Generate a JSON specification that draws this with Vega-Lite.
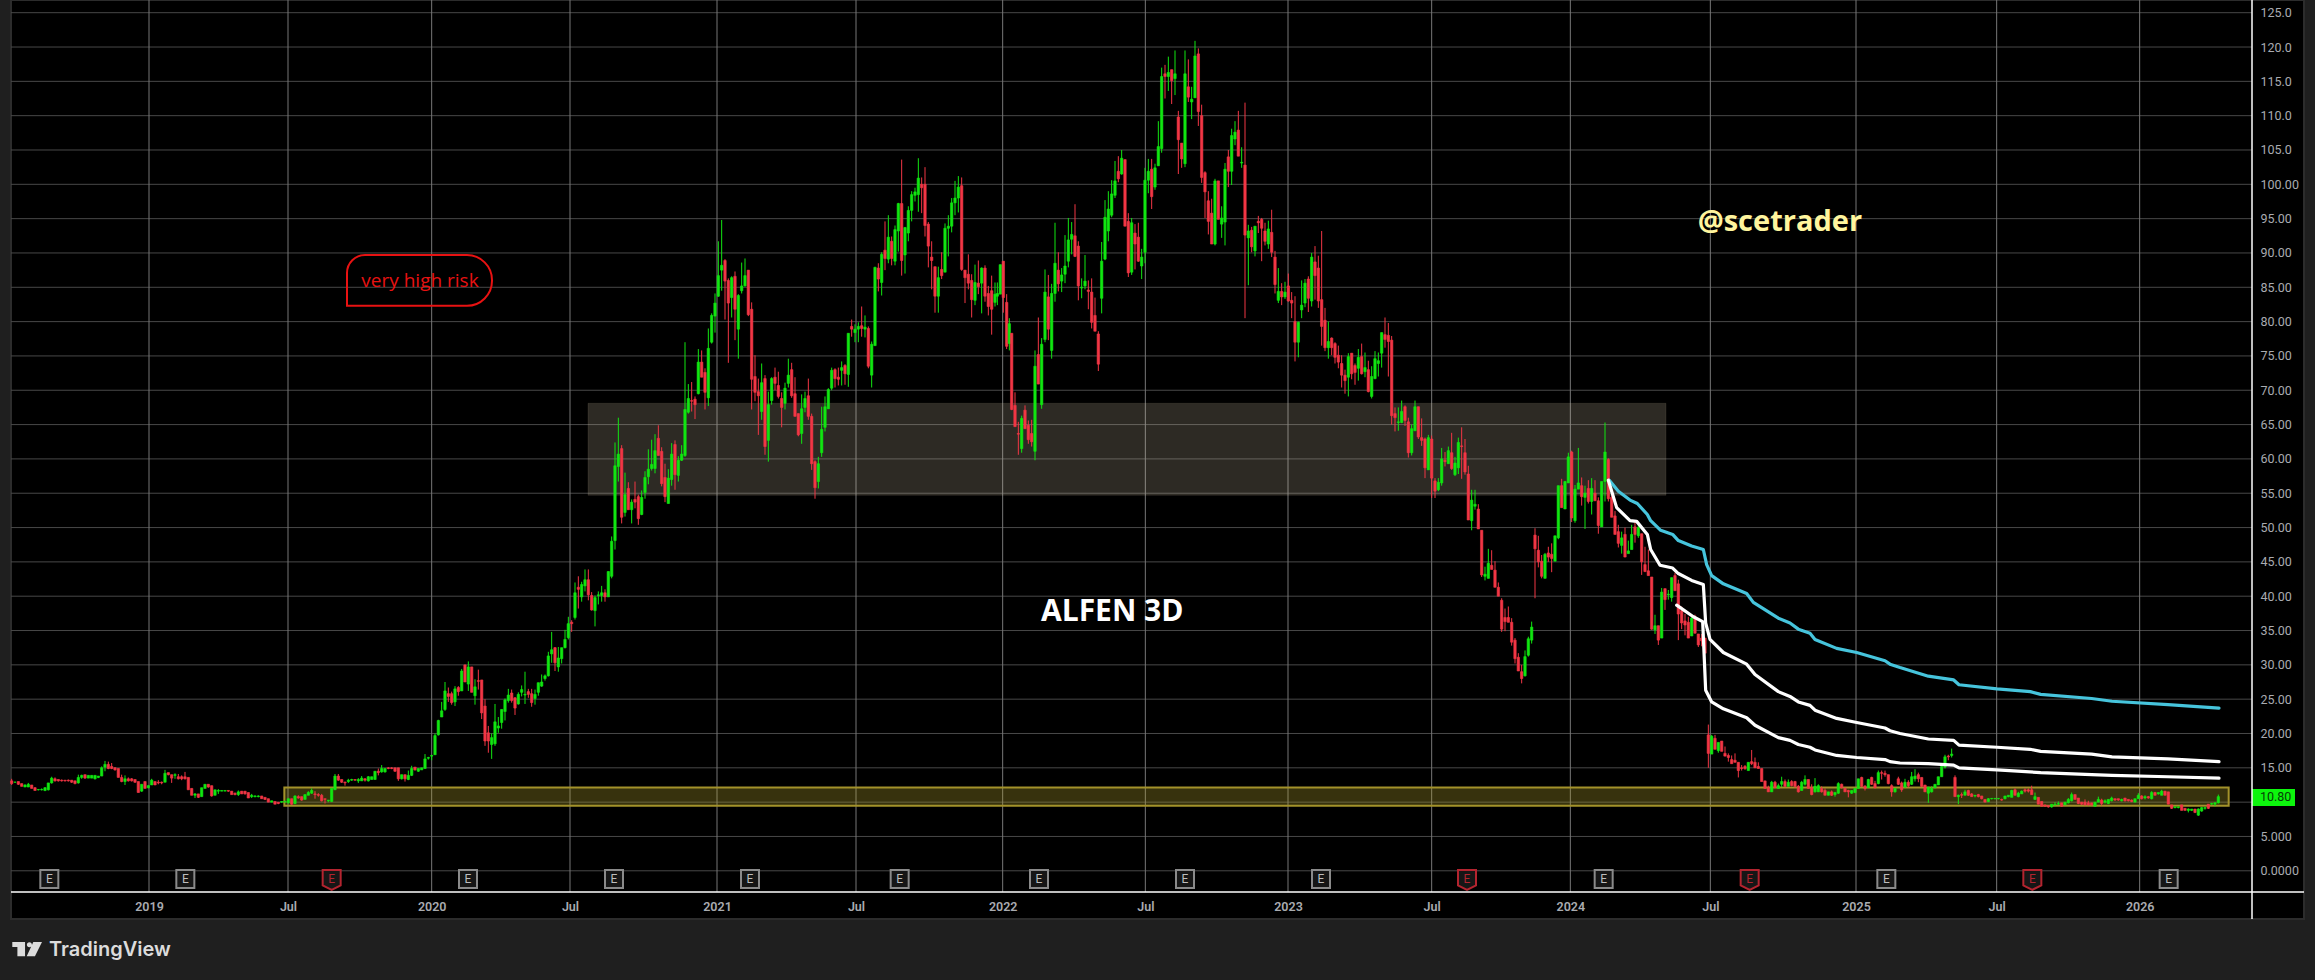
{
"$schema":"https://vega.github.io/schema/vega-lite/v6.json",
"width":2241,"height":892,"autosize":{"type":"none"},
"padding":{"left":11,"top":0,"right":63,"bottom":88},
"background":"#1f1f1f",
"view":{"stroke":null},
"datasets":{
"candles":[
{"i":0,"o":13.1,"h":13.4,"l":12.5,"c":12.7},{"i":1,"o":12.9,"h":13,"l":12.8,"c":12.9},{"i":2,"o":13,"h":13,"l":12.5,"c":12.6},{"i":3,"o":12.7,"h":12.7,"l":12.3,"c":12.3},{"i":4,"o":12.2,"h":12.6,"l":12.2,"c":12.5},{"i":5,"o":12.2,"h":12.8,"l":12.2,"c":12.6},{"i":6,"o":12.5,"h":12.5,"l":12,"c":12},{"i":7,"o":12.1,"h":12.2,"l":11.7,"c":11.7},{"i":8,"o":11.8,"h":11.9,"l":11.7,"c":11.85},{"i":9,"o":11.8,"h":12,"l":11.7,"c":11.85},
{"i":10,"o":11.7,"h":12.2,"l":11.6,"c":12.1},{"i":11,"o":11.8,"h":12.8,"l":11.7,"c":12.8},{"i":12,"o":12.8,"h":13.7,"l":12.7,"c":13.5},{"i":13,"o":13.4,"h":13.6,"l":13,"c":13.1},{"i":14,"o":13.3,"h":13.3,"l":13,"c":13.1},{"i":15,"o":13.2,"h":13.3,"l":13,"c":13.1},{"i":16,"o":13.2,"h":13.2,"l":13,"c":13.1},{"i":17,"o":13.2,"h":13.3,"l":13,"c":13.1},{"i":18,"o":13.2,"h":13.2,"l":12.8,"c":12.9},{"i":19,"o":13.1,"h":13.1,"l":12.6,"c":12.7},
{"i":20,"o":12.8,"h":14,"l":12.7,"c":13.6},{"i":21,"o":13.6,"h":14,"l":13.4,"c":13.9},{"i":22,"o":14,"h":14,"l":13.4,"c":13.5},{"i":23,"o":13.5,"h":13.9,"l":13.5,"c":13.9},{"i":24,"o":13.5,"h":13.9,"l":13.5,"c":13.9},{"i":25,"o":13.4,"h":13.9,"l":13.3,"c":13.9},{"i":26,"o":13.6,"h":13.8,"l":13.5,"c":13.8},{"i":27,"o":13.8,"h":15.2,"l":13.8,"c":15},{"i":28,"o":15.1,"h":16,"l":14.5,"c":15.5},{"i":29,"o":15.5,"h":15.9,"l":14.8,"c":14.9},
{"i":30,"o":15.2,"h":15.7,"l":14.8,"c":14.9},{"i":31,"o":15,"h":15.1,"l":14.6,"c":14.7},{"i":32,"o":14.9,"h":14.9,"l":13.6,"c":13.6},{"i":33,"o":13.6,"h":14,"l":12.9,"c":13},{"i":34,"o":13,"h":13.9,"l":12.5,"c":13.4},{"i":35,"o":13.4,"h":13.6,"l":13,"c":13.1},{"i":36,"o":13.4,"h":13.5,"l":13,"c":13.1},{"i":37,"o":13.3,"h":13.3,"l":12.8,"c":12.9},{"i":38,"o":13,"h":13,"l":11.4,"c":11.4},{"i":39,"o":11.6,"h":12.6,"l":11.5,"c":12.6},
{"i":40,"o":13,"h":13,"l":12,"c":12},{"i":41,"o":12.1,"h":12.5,"l":12,"c":12.4},{"i":42,"o":12.5,"h":13.4,"l":12.5,"c":13.2},{"i":43,"o":13,"h":13,"l":12.5,"c":12.5},{"i":44,"o":12.9,"h":13.2,"l":12.6,"c":12.8},{"i":45,"o":12.9,"h":13,"l":12.6,"c":12.8},{"i":46,"o":12.9,"h":14.7,"l":12.9,"c":14.2},{"i":47,"o":14.3,"h":14.3,"l":13.9,"c":14},{"i":48,"o":14,"h":14,"l":12.8,"c":13.5},{"i":49,"o":13.9,"h":14.2,"l":13.4,"c":14},
{"i":50,"o":13.7,"h":14.1,"l":13.3,"c":13.4},{"i":51,"o":13.7,"h":13.9,"l":13.2,"c":13.4},{"i":52,"o":13.7,"h":14.4,"l":13.3,"c":13.4},{"i":53,"o":13.6,"h":13.6,"l":11.8,"c":11.8},{"i":54,"o":12,"h":12,"l":11,"c":11},{"i":55,"o":11,"h":11.3,"l":10.6,"c":11.2},{"i":56,"o":11.2,"h":11.2,"l":10.6,"c":10.7},{"i":57,"o":10.8,"h":12.1,"l":10.8,"c":12.1},{"i":58,"o":12,"h":12.6,"l":12,"c":12.6},{"i":59,"o":12.6,"h":12.6,"l":12.1,"c":12.2},
{"i":60,"o":12.4,"h":12.4,"l":10.8,"c":10.9},{"i":61,"o":11,"h":11.8,"l":11,"c":11.8},{"i":62,"o":11.6,"h":11.9,"l":11.2,"c":11.7},{"i":63,"o":11.6,"h":11.7,"l":11.6,"c":11.7},{"i":64,"o":11.6,"h":11.7,"l":11.6,"c":11.7},{"i":65,"o":11.7,"h":11.7,"l":11.5,"c":11.6},{"i":66,"o":11.6,"h":11.6,"l":11.1,"c":11.1},{"i":67,"o":11.3,"h":11.4,"l":11,"c":11.1},{"i":68,"o":11.1,"h":11.7,"l":10.9,"c":11.5},{"i":69,"o":11.6,"h":11.6,"l":11.2,"c":11.2},
{"i":70,"o":11.6,"h":11.6,"l":11.1,"c":11.2},{"i":71,"o":11.4,"h":11.4,"l":10.6,"c":10.6},{"i":72,"o":10.8,"h":11.2,"l":10.6,"c":11},{"i":73,"o":10.8,"h":11,"l":10.7,"c":10.9},{"i":74,"o":10.8,"h":11,"l":10.7,"c":10.9},{"i":75,"o":10.9,"h":10.9,"l":10.5,"c":10.5},{"i":76,"o":10.7,"h":10.7,"l":10.3,"c":10.4},{"i":77,"o":10.5,"h":10.5,"l":10,"c":10},{"i":78,"o":10,"h":10.2,"l":10,"c":10.2},{"i":79,"o":10.1,"h":10.1,"l":9.7,"c":9.7},
{"i":80,"o":10,"h":10,"l":9.7,"c":9.8},{"i":81,"o":10,"h":10.1,"l":9.9,"c":10.1},{"i":82,"o":10,"h":10.2,"l":10,"c":10.1},{"i":83,"o":9.9,"h":10.5,"l":9.8,"c":10.5},{"i":84,"o":10.5,"h":10.5,"l":9.6,"c":9.7},{"i":85,"o":9.8,"h":11,"l":9.7,"c":10.9},{"i":86,"o":10.8,"h":11,"l":10.5,"c":10.6},{"i":87,"o":10.8,"h":10.8,"l":10.2,"c":10.3},{"i":88,"o":10.4,"h":11.1,"l":10.4,"c":11.1},{"i":89,"o":11,"h":11.6,"l":11,"c":11.4},
{"i":90,"o":11.3,"h":12,"l":11.2,"c":11.7},{"i":91,"o":11.2,"h":11.6,"l":10.5,"c":11.1},{"i":92,"o":11.1,"h":11.3,"l":10.8,"c":11},{"i":93,"o":11,"h":11.2,"l":10.1,"c":10.2},{"i":94,"o":10.5,"h":10.5,"l":9.8,"c":10.4},{"i":95,"o":10.2,"h":10.3,"l":10,"c":10.3},{"i":96,"o":10.1,"h":12,"l":10,"c":12},{"i":97,"o":11.8,"h":14.1,"l":11.8,"c":13.8},{"i":98,"o":13.8,"h":14.1,"l":13.1,"c":13.2},{"i":99,"o":13.3,"h":13.3,"l":12.8,"c":12.9},
{"i":100,"o":12.9,"h":13,"l":12.4,"c":12.8},{"i":101,"o":13,"h":13.4,"l":12.8,"c":13.2},{"i":102,"o":13.2,"h":13.4,"l":13.1,"c":13.3},{"i":103,"o":13.3,"h":13.3,"l":13.1,"c":13.2},{"i":104,"o":13.1,"h":13.5,"l":12.8,"c":13.3},{"i":105,"o":13.1,"h":13.8,"l":13.1,"c":13.5},{"i":106,"o":13.4,"h":13.5,"l":13,"c":13.2},{"i":107,"o":13.1,"h":13.8,"l":13,"c":13.7},{"i":108,"o":13.3,"h":13.7,"l":13.3,"c":13.7},{"i":109,"o":13.3,"h":14.5,"l":13.3,"c":14.5},
{"i":110,"o":14.5,"h":14.9,"l":13.9,"c":14.3},{"i":111,"o":14.4,"h":15.4,"l":14.3,"c":14.9},{"i":112,"o":14.4,"h":14.9,"l":14.3,"c":14.9},{"i":113,"o":15,"h":15.1,"l":14.8,"c":14.9},{"i":114,"o":15,"h":15.1,"l":14.8,"c":14.9},{"i":115,"o":15,"h":15,"l":14.4,"c":14.5},{"i":116,"o":15,"h":15,"l":13.1,"c":13.4},{"i":117,"o":13.4,"h":14,"l":13.3,"c":14},{"i":118,"o":14,"h":14,"l":13,"c":13.4},{"i":119,"o":13.3,"h":14.6,"l":13.2,"c":13.9},
{"i":120,"o":13.9,"h":15.3,"l":13.8,"c":14.9},{"i":121,"o":15.1,"h":15.1,"l":14.6,"c":14.7},{"i":122,"o":14.5,"h":14.9,"l":14.4,"c":14.9},{"i":123,"o":14.7,"h":15,"l":14.7,"c":15},
{"i":124,"o":14.9,"h":17,"l":14.9,"c":16.3},{"i":125,"o":16.4,"h":16.6,"l":16.2,"c":16.5},{"i":126,"o":16.7,"h":16.9,"l":16.1,"c":16.8},{"i":127,"o":16.9,"h":20,"l":16.9,"c":19.7},{"i":128,"o":19.8,"h":22,"l":19.7,"c":21.9},{"i":129,"o":22.4,"h":24.6,"l":22.4,"c":23.3},{"i":130,"o":23.5,"h":27.5,"l":23.3,"c":26.2},{"i":131,"o":25.8,"h":26.7,"l":24.6,"c":25.4},{"i":132,"o":25.8,"h":26.1,"l":24.2,"c":24.5},{"i":133,"o":24.6,"h":26.9,"l":24,"c":26.5},
{"i":134,"o":26.7,"h":26.9,"l":25.5,"c":26.1},{"i":135,"o":26.2,"h":29.4,"l":26.2,"c":29.1},{"i":136,"o":30,"h":30,"l":27.5,"c":27.5},{"i":137,"o":27.2,"h":30.5,"l":26.2,"c":29.7},{"i":138,"o":29.7,"h":29.7,"l":26,"c":26},{"i":139,"o":25.5,"h":27.9,"l":24.2,"c":26.8},{"i":140,"o":27.7,"h":29.3,"l":26.4,"c":27.6},{"i":141,"o":27.8,"h":27.8,"l":22.1,"c":23},{"i":142,"o":24,"h":25,"l":18.2,"c":18.9},{"i":143,"o":20.1,"h":21.1,"l":17.2,"c":18.9},
{"i":144,"o":18.4,"h":20,"l":16.3,"c":19.4},{"i":145,"o":18.5,"h":24.3,"l":18.2,"c":21.7},{"i":146,"o":20.8,"h":22.4,"l":20.1,"c":21.1},{"i":147,"o":21.6,"h":23.5,"l":20.7,"c":23.5},{"i":148,"o":23.2,"h":25.1,"l":21.9,"c":24.9},{"i":149,"o":24.8,"h":26.5,"l":24.5,"c":25.6},{"i":150,"o":25.9,"h":26.4,"l":24.5,"c":24.8},{"i":151,"o":25.2,"h":25.3,"l":22.7,"c":23.7},{"i":152,"o":24.3,"h":26,"l":24.2,"c":25.7},{"i":153,"o":26,"h":27,"l":25.4,"c":26.4},
{"i":154,"o":25.6,"h":29,"l":24.3,"c":25.7},{"i":155,"o":26.1,"h":26.5,"l":25.2,"c":25.7},{"i":156,"o":25.8,"h":26.5,"l":23.9,"c":24.5},{"i":157,"o":25.1,"h":26.4,"l":24.2,"c":25.7},{"i":158,"o":26,"h":27.4,"l":25.5,"c":27.4},{"i":159,"o":26.9,"h":28.6,"l":26.8,"c":27.5},{"i":160,"o":28,"h":28.6,"l":27.7,"c":28.4},{"i":161,"o":28.4,"h":31.9,"l":28.3,"c":31.3},{"i":162,"o":31.6,"h":34.8,"l":30.3,"c":32.2},{"i":163,"o":32.5,"h":32.6,"l":29.1,"c":30.3},
{"i":164,"o":29.7,"h":32.6,"l":29,"c":31},{"i":165,"o":30.9,"h":32.5,"l":30.2,"c":32.5},{"i":166,"o":32.5,"h":35.1,"l":32.4,"c":33.7},{"i":167,"o":33.96,"h":37,"l":33.7,"c":36},{"i":168,"o":36.2,"h":36.5,"l":34.8,"c":36},{"i":169,"o":36.9,"h":42,"l":36.6,"c":40.5},{"i":170,"o":41.3,"h":42.9,"l":38.2,"c":41},{"i":171,"o":39.9,"h":42.1,"l":39.2,"c":41.7},{"i":172,"o":41.5,"h":43.9,"l":40.7,"c":42.4},{"i":173,"o":42.4,"h":43.9,"l":39.4,"c":40.2},
{"i":174,"o":40.1,"h":40.6,"l":37.9,"c":38},{"i":175,"o":37.9,"h":40.1,"l":35.6,"c":39.8},{"i":176,"o":40.1,"h":40.7,"l":38.8,"c":40.2},{"i":177,"o":40.1,"h":41.5,"l":39.2,"c":40.5},{"i":178,"o":40.5,"h":41,"l":39.2,"c":39.9},{"i":179,"o":39.9,"h":43.6,"l":39.9,"c":43.6},{"i":180,"o":42.9,"h":48.7,"l":42.6,"c":48},{"i":181,"o":48.1,"h":62.4,"l":46.8,"c":59},{"i":182,"o":58.9,"h":66,"l":56.7,"c":60.7},{"i":183,"o":61.5,"h":62,"l":50.6,"c":51.5},
{"i":184,"o":52.2,"h":58,"l":51.6,"c":54.8},{"i":185,"o":55.7,"h":56.6,"l":52.6,"c":52.6},{"i":186,"o":52.6,"h":54.1,"l":50.6,"c":53.7},{"i":187,"o":54.1,"h":56.7,"l":52.8,"c":53.7},{"i":188,"o":54.5,"h":54.8,"l":50.4,"c":51.3},{"i":189,"o":51.9,"h":55.4,"l":51.8,"c":54.4},{"i":190,"o":55.1,"h":58.2,"l":54.2,"c":57.3},{"i":191,"o":57.4,"h":61.4,"l":56.3,"c":58.5},{"i":192,"o":58.6,"h":62.8,"l":58.3,"c":59.2},{"i":193,"o":58.6,"h":63.6,"l":57.9,"c":61.2},
{"i":194,"o":63,"h":64.9,"l":60.5,"c":60.5},{"i":195,"o":61.1,"h":61.7,"l":56,"c":56.4},{"i":196,"o":57.3,"h":59.3,"l":53.7,"c":54.5},{"i":197,"o":53.5,"h":58.5,"l":53.5,"c":57.2},{"i":198,"o":57,"h":62.3,"l":56.1,"c":60.7},{"i":199,"o":62.1,"h":62.7,"l":55.5,"c":57.7},{"i":200,"o":57.6,"h":60.4,"l":56.7,"c":59.8},{"i":201,"o":59.8,"h":62,"l":59.7,"c":60.7},{"i":202,"o":60.5,"h":77,"l":60.3,"c":67.2},{"i":203,"o":66.8,"h":70.9,"l":66.6,"c":68.8},
{"i":204,"o":68.5,"h":71.2,"l":66.9,"c":68.4},{"i":205,"o":68.7,"h":69.1,"l":65.8,"c":67.9},{"i":206,"o":69.5,"h":76,"l":69.4,"c":74.1},{"i":207,"o":74.1,"h":75.8,"l":71.9,"c":71.9},{"i":208,"o":72.6,"h":73.2,"l":67.2,"c":69.7},{"i":209,"o":68.9,"h":79,"l":67.7,"c":76.1},
{"i":210,"o":77,"h":81.2,"l":76.8,"c":80.9},{"i":211,"o":80.8,"h":84.1,"l":78.4,"c":82.7},{"i":212,"o":83.7,"h":91.7,"l":83.6,"c":86.7},{"i":213,"o":87.5,"h":94.8,"l":84.5,"c":88.2},{"i":214,"o":88.9,"h":89.1,"l":80.3,"c":85.9},{"i":215,"o":86,"h":86.3,"l":74,"c":82.7},{"i":216,"o":83.5,"h":86.6,"l":80.6,"c":86.4},{"i":217,"o":86.6,"h":87.3,"l":77.3,"c":81.8},{"i":218,"o":78.9,"h":84,"l":74.6,"c":83.8},{"i":219,"o":84.5,"h":88.6,"l":84.1,"c":85.2},
{"i":220,"o":85.2,"h":89.2,"l":85.1,"c":86.7},{"i":221,"o":87.5,"h":87.5,"l":80.8,"c":81},{"i":222,"o":81.8,"h":82.8,"l":67.2,"c":71.6},{"i":223,"o":72,"h":75.1,"l":68.4,"c":69.7},{"i":224,"o":69.8,"h":71.7,"l":63.5,"c":69.2},{"i":225,"o":66.9,"h":73.9,"l":65.7,"c":71.1},{"i":226,"o":71.7,"h":72.2,"l":60.6,"c":61.8},{"i":227,"o":62.7,"h":69.8,"l":59.6,"c":67.9},{"i":228,"o":68.5,"h":71.9,"l":67.9,"c":71.7},{"i":229,"o":71.9,"h":73.3,"l":70,"c":71},
{"i":230,"o":70.7,"h":72.7,"l":68.8,"c":69.1},{"i":231,"o":68.8,"h":69.7,"l":64.6,"c":67.5},{"i":232,"o":68.1,"h":71.1,"l":67.2,"c":70.3},{"i":233,"o":71,"h":74.6,"l":70.4,"c":72.2},{"i":234,"o":73,"h":74,"l":68.9,"c":69.2},{"i":235,"o":69.5,"h":71.9,"l":66.2,"c":66.2},{"i":236,"o":66.6,"h":66.6,"l":63.3,"c":63.5},{"i":237,"o":63.7,"h":69.4,"l":62.2,"c":67.3},{"i":238,"o":67.5,"h":69.8,"l":66.8,"c":68.8},{"i":239,"o":69.2,"h":71.7,"l":65.7,"c":66.2},
{"i":240,"o":66.2,"h":66.6,"l":58.4,"c":59.3},{"i":241,"o":59.6,"h":59.8,"l":54.2,"c":55.8},{"i":242,"o":56.7,"h":60.3,"l":55.7,"c":59.3},{"i":243,"o":60.9,"h":67.6,"l":60.3,"c":64.3},{"i":244,"o":64.6,"h":69.1,"l":64,"c":67.6},{"i":245,"o":67.3,"h":70.3,"l":67.3,"c":70.1},{"i":246,"o":70.3,"h":73.3,"l":70,"c":72.9},{"i":247,"o":73,"h":73.2,"l":70.4,"c":71.7},{"i":248,"o":71.9,"h":73.3,"l":70.7,"c":71.6},{"i":249,"o":72.9,"h":74.2,"l":70.7,"c":73.3},
{"i":250,"o":73.6,"h":73.8,"l":70.8,"c":72.4},{"i":251,"o":72.3,"h":78.3,"l":70.5,"c":78.3},{"i":252,"o":79.3,"h":80.3,"l":77.8,"c":78.9},{"i":253,"o":78.4,"h":79.6,"l":77,"c":78.9},{"i":254,"o":78.9,"h":79.9,"l":77,"c":79.3},{"i":255,"o":79.4,"h":82.2,"l":77.8,"c":79},{"i":256,"o":78.9,"h":80.9,"l":77.7,"c":79.2},{"i":257,"o":79,"h":79.3,"l":73.2,"c":73.5},{"i":258,"o":72.2,"h":77.1,"l":70.4,"c":76.7},{"i":259,"o":76.5,"h":88,"l":76.5,"c":87.9},
{"i":260,"o":87.8,"h":88.5,"l":84.4,"c":86.2},{"i":261,"o":85.7,"h":90.1,"l":83.8,"c":89.8},{"i":262,"o":90.4,"h":94.6,"l":87.5,"c":89.2},{"i":263,"o":89.1,"h":95.5,"l":88.5,"c":92.3},{"i":264,"o":91.7,"h":92.4,"l":88.2,"c":89.2},{"i":265,"o":88.8,"h":94,"l":88.2,"c":93.4},{"i":266,"o":93.2,"h":97.3,"l":90.2,"c":97.2},{"i":267,"o":97.2,"h":103.6,"l":86.7,"c":88.9},{"i":268,"o":89.7,"h":93.8,"l":87,"c":93.7},{"i":269,"o":92.9,"h":96.8,"l":91.7,"c":96.2},
{"i":270,"o":96.2,"h":99,"l":94.6,"c":98.5},{"i":271,"o":98.4,"h":99.5,"l":97.5,"c":98.9},{"i":272,"o":98.5,"h":103.8,"l":96,"c":100.9},{"i":273,"o":100,"h":101,"l":95.8,"c":99.5},{"i":274,"o":100,"h":102.5,"l":92.4,"c":94},{"i":275,"o":94.2,"h":94.5,"l":87.9,"c":91},{"i":276,"o":89.4,"h":91.7,"l":84.7,"c":88.9},{"i":277,"o":88,"h":88,"l":81.3,"c":83.7},{"i":278,"o":83.7,"h":88,"l":81.3,"c":86.4},{"i":279,"o":87.6,"h":90.1,"l":86.2,"c":86.7},
{"i":280,"o":87.2,"h":94.3,"l":87.2,"c":93.6},{"i":281,"o":93.6,"h":95.5,"l":89.5,"c":93.9},{"i":282,"o":93.9,"h":98,"l":93,"c":97.3},{"i":283,"o":97.3,"h":100.5,"l":95.5,"c":98},{"i":284,"o":98,"h":101.2,"l":95.9,"c":99.6},{"i":285,"o":99.8,"h":101,"l":87.4,"c":87.6},{"i":286,"o":87.5,"h":87.5,"l":82.7,"c":86.4},{"i":287,"o":86.9,"h":89.8,"l":84.7,"c":85.6},{"i":288,"o":86,"h":86.9,"l":80.6,"c":83.2},{"i":289,"o":83.1,"h":88.3,"l":82.4,"c":85.7},
{"i":290,"o":85.6,"h":88.9,"l":84,"c":85.1},{"i":291,"o":85.6,"h":87.9,"l":81.2,"c":87.8},{"i":292,"o":87.8,"h":88.2,"l":82.9,"c":83.7},{"i":293,"o":84.1,"h":85.2,"l":80.9,"c":82.2},{"i":294,"o":84.5,"h":86.7,"l":78.1,"c":81.8},{"i":295,"o":82.8,"h":85.7,"l":82.2,"c":84},{"i":295.7,"o":83.7,"h":85.7,"l":82.4,"c":84.1},{"i":296.6,"o":84,"h":88.3,"l":84,"c":88.3},{"i":297.5,"o":88.8,"h":88.8,"l":81.3,"c":83.5},{"i":298.5,"o":82.8,"h":84,"l":76,"c":76.4},
{"i":299.3,"o":76.8,"h":80.5,"l":75.8,"c":79.7},
{"i":300,"o":78.3,"h":78.3,"l":67.1,"c":67.2},{"i":301,"o":67.8,"h":69.7,"l":64.7,"c":64.7},{"i":302,"o":63.7,"h":65.4,"l":60.6,"c":63.6},{"i":303,"o":61.5,"h":66.3,"l":60.9,"c":65.9},{"i":304,"o":67.1,"h":67.8,"l":64.4,"c":64.4},{"i":305,"o":64.9,"h":65.6,"l":62.2,"c":62.8},{"i":306,"o":63.7,"h":65.7,"l":61.8,"c":62.5},{"i":307,"o":61.1,"h":75.8,"l":59.8,"c":73.5},{"i":308,"o":75.2,"h":80.6,"l":70.9,"c":70.9},{"i":309,"o":67.9,"h":77.6,"l":67.3,"c":76.7},
{"i":310,"o":77.4,"h":87.6,"l":77,"c":84.3},{"i":311,"o":83.6,"h":86.8,"l":77.3,"c":78.9},{"i":312,"o":75.8,"h":85.5,"l":74.6,"c":84.1},{"i":313,"o":84.1,"h":94.4,"l":82.9,"c":88.5},{"i":314,"o":87.5,"h":90.1,"l":84.4,"c":85.5},{"i":315,"o":85.9,"h":87.8,"l":84.3,"c":86.8},{"i":316,"o":86.9,"h":92.6,"l":85.6,"c":88.1},{"i":317,"o":88.8,"h":95.1,"l":87.9,"c":91.9},{"i":318,"o":92,"h":94.5,"l":89.8,"c":92.7},{"i":319,"o":92.5,"h":97.1,"l":89.4,"c":89.5},
{"i":320,"o":91,"h":91.7,"l":83.1,"c":85.2},{"i":321,"o":84.9,"h":86.3,"l":83.4,"c":85},{"i":322,"o":85.2,"h":89.7,"l":84.7,"c":85.9},{"i":323,"o":84.6,"h":86,"l":81.8,"c":84.4},{"i":324,"o":84.3,"h":86.3,"l":79,"c":79.9},{"i":325,"o":80.9,"h":83.5,"l":78.6,"c":78.6},{"i":326,"o":78.2,"h":78.6,"l":72.8,"c":73.8},{"i":327,"o":83.4,"h":91.6,"l":81.2,"c":88.8},{"i":328,"o":89.1,"h":97.7,"l":88.95,"c":95.2},{"i":329,"o":93.2,"h":99,"l":91.7,"c":96.4},
{"i":330,"o":95.5,"h":100.6,"l":95.2,"c":98.6},{"i":331,"o":98.4,"h":103.4,"l":98,"c":100.5},{"i":332,"o":101.9,"h":104.1,"l":100.3,"c":100.8},{"i":333,"o":101.5,"h":105,"l":101.4,"c":103.8},{"i":334,"o":103.6,"h":103.6,"l":93.9,"c":93.9},{"i":335,"o":94.6,"h":95.8,"l":86.5,"c":87.1},{"i":336,"o":87.2,"h":95.1,"l":86.8,"c":94.4},{"i":337,"o":92.9,"h":94.2,"l":87.6,"c":91.3},{"i":338,"o":92.3,"h":94.4,"l":88.7,"c":88.8},{"i":339,"o":88.1,"h":90.6,"l":86.2,"c":89.4},
{"i":340,"o":90.1,"h":102.4,"l":88.5,"c":100.6},{"i":341,"o":100.6,"h":103.7,"l":98.7,"c":101.9},{"i":342,"o":102.2,"h":103.7,"l":96.4,"c":98.2},{"i":343,"o":99.6,"h":103,"l":99.2,"c":102.4},{"i":344,"o":102.7,"h":109.2,"l":102.7,"c":105.5},{"i":345,"o":105.2,"h":117,"l":104.6,"c":115.7},{"i":346,"o":116.1,"h":117.4,"l":112.5,"c":115.7},{"i":347,"o":115.7,"h":118.6,"l":113.6,"c":116.3},{"i":348,"o":116.7,"h":116.7,"l":111.7,"c":115.1},{"i":349,"o":115.4,"h":119.5,"l":113,"c":116.1},
{"i":350,"o":109.8,"h":110.7,"l":101.5,"c":106.5},{"i":351,"o":106,"h":106,"l":102.4,"c":103.7},{"i":352,"o":103,"h":119.5,"l":102.5,"c":116.1},{"i":353,"o":114.2,"h":118.2,"l":112,"c":112.7},{"i":354,"o":112,"h":114.2,"l":109.5,"c":112.4},{"i":355,"o":112.6,"h":120.9,"l":112.6,"c":118.7},{"i":356,"o":119,"h":119.8,"l":108.5,"c":110.6},{"i":357,"o":110,"h":111.6,"l":100.2,"c":101},{"i":358,"o":101.7,"h":101.9,"l":95.1,"c":98.9},{"i":359,"o":97.6,"h":99,"l":92.7,"c":94.6},
{"i":360,"o":95.8,"h":97.9,"l":91.3,"c":91.3},{"i":361,"o":91.3,"h":100.8,"l":91.1,"c":100.5},{"i":362,"o":100.5,"h":100.5,"l":94.9,"c":94.9},{"i":363,"o":94.2,"h":96.8,"l":92.2,"c":95.1},{"i":364,"o":94.5,"h":103.1,"l":91.1,"c":102.2},{"i":365,"o":104,"h":105,"l":99.6,"c":101.9},{"i":366,"o":101.9,"h":108.1,"l":99.9,"c":107.1},{"i":367,"o":106.6,"h":109.2,"l":105.7,"c":107.6},{"i":368,"o":107.9,"h":110.7,"l":104.1,"c":104.1},{"i":369,"o":103.1,"h":105.4,"l":102.4,"c":103.2},
{"i":370,"o":102.8,"h":111.9,"l":80.5,"c":92.6},{"i":371,"o":92.2,"h":94.1,"l":85.3,"c":93.2},{"i":372,"o":93.3,"h":93.8,"l":90.1,"c":90.9},{"i":373,"o":90.3,"h":93.9,"l":89.5,"c":93.9},{"i":374,"o":94.6,"h":95.4,"l":92.9,"c":94.4},{"i":375,"o":94.9,"h":95.1,"l":88.8,"c":93.6},{"i":376,"o":93.2,"h":94.4,"l":91.1,"c":91.7},{"i":377,"o":91.3,"h":94.7,"l":90.6,"c":93.5},{"i":378,"o":93,"h":96.3,"l":89.4,"c":90.1},{"i":379,"o":89.4,"h":90.3,"l":84.1,"c":85.4},
{"i":380,"o":83.1,"h":87.8,"l":82.7,"c":84.4},{"i":381,"o":84.4,"h":85.6,"l":82.4,"c":83.6},{"i":382,"o":83.6,"h":85.8,"l":83.3,"c":84.3},{"i":383,"o":85.2,"h":87,"l":82.9,"c":83},{"i":384,"o":83.1,"h":84.3,"l":80.5,"c":82.7},{"i":385,"o":80,"h":83.7,"l":74.2,"c":77},{"i":386,"o":77,"h":80,"l":74.8,"c":79.9},{"i":387,"o":81.7,"h":86,"l":80.5,"c":82.4},{"i":388,"o":82.7,"h":86.2,"l":82.1,"c":85.6},{"i":389,"o":86.2,"h":86.6,"l":81.4,"c":83.4},
{"i":390,"o":83,"h":90,"l":82.2,"c":89.4},{"i":391,"o":88.7,"h":91,"l":83.2,"c":86.7},{"i":392,"o":87.8,"h":89.6,"l":82,"c":83},{"i":393,"o":83.2,"h":93.2,"l":76.5,"c":79.3},{"i":394,"o":80.2,"h":82,"l":75.7,"c":76.2},{"i":395,"o":76.2,"h":80,"l":74.6,"c":77.1},{"i":396,"o":77.6,"h":77.7,"l":75.1,"c":76.2},{"i":397,"o":76.8,"h":77,"l":73.9,"c":74.8},{"i":398,"o":75.1,"h":76.5,"l":73.2,"c":74.1},{"i":399,"o":73.9,"h":75.1,"l":70.4,"c":72.2},
{"i":400,"o":72.2,"h":73,"l":69.5,"c":71.4},{"i":401,"o":71.9,"h":75.4,"l":69.1,"c":74.9},{"i":402,"o":75.4,"h":75.4,"l":71.6,"c":72.4},{"i":403,"o":73.6,"h":73.9,"l":70.8,"c":72.6},{"i":404,"o":73.2,"h":76,"l":71.4,"c":74.8},{"i":405,"o":74.9,"h":76.8,"l":72.3,"c":72.4},{"i":406,"o":72.7,"h":75.5,"l":71.9,"c":73.3},{"i":407,"o":73,"h":74.3,"l":69.7,"c":69.8},{"i":408,"o":69.1,"h":73.5,"l":68.8,"c":72},{"i":409,"o":71.7,"h":75.7,"l":71.6,"c":74.6},
{"i":410,"o":73.9,"h":75.5,"l":72,"c":74.3},{"i":411,"o":75.4,"h":78.4,"l":73.3,"c":78.4},{"i":412,"o":78.1,"h":80.6,"l":76.2,"c":77.4},{"i":413,"o":78,"h":79.8,"l":72,"c":77.1},{"i":414,"o":77.3,"h":77.9,"l":65,"c":66.3},{"i":415,"o":66.6,"h":67.5,"l":64,"c":66},{"i":416,"o":65.3,"h":67.5,"l":64.1,"c":65.4},{"i":417,"o":65.3,"h":68.5,"l":65.2,"c":66.9},{"i":418,"o":67.6,"h":67.8,"l":64.8,"c":65.6},{"i":419,"o":65.4,"h":66,"l":60.2,"c":60.9},
{"i":420,"o":60.9,"h":65,"l":60.5,"c":64.4},{"i":421,"o":64.1,"h":68.5,"l":64.1,"c":67.6},{"i":422,"o":67.6,"h":67.6,"l":62.9,"c":63.2},{"i":423,"o":63.1,"h":65.9,"l":61.9,"c":62.7},{"i":424,"o":62.9,"h":63.1,"l":57.2,"c":58.7},{"i":425,"o":58.4,"h":63.5,"l":58.4,"c":63.1},{"i":426,"o":62.9,"h":63.4,"l":54.3,"c":57.2},{"i":427,"o":56.8,"h":57.2,"l":54.3,"c":55.3},{"i":428,"o":55.5,"h":57.2,"l":55.3,"c":56.6},{"i":429,"o":56.5,"h":61.6,"l":56.1,"c":60},
{"i":430,"o":59.8,"h":61,"l":58.9,"c":59.6},{"i":431,"o":59.3,"h":61.8,"l":59.3,"c":61.2},{"i":432,"o":60.9,"h":63.8,"l":58.4,"c":58.6},{"i":433,"o":57.7,"h":60.3,"l":57.5,"c":59.4},{"i":434,"o":58.7,"h":63.1,"l":57.8,"c":62.4},{"i":435,"o":61.9,"h":64.6,"l":57.1,"c":61.8},{"i":436,"o":60.9,"h":62.9,"l":57.7,"c":58.1},{"i":437,"o":57.8,"h":59,"l":51.1,"c":51.1},{"i":438,"o":51,"h":55.5,"l":49.6,"c":54},{"i":439,"o":53.1,"h":55.5,"l":52.6,"c":53.4},
{"i":440,"o":52.7,"h":53.4,"l":49.8,"c":49.8},{"i":441,"o":49.6,"h":49.6,"l":42.8,"c":43.1},{"i":442,"o":42.9,"h":44.3,"l":42.3,"c":43.2},{"i":443,"o":42.6,"h":46.9,"l":42.6,"c":44.8},{"i":444,"o":44.5,"h":46.7,"l":43.9,"c":43.9},{"i":445,"o":43.8,"h":45.1,"l":41.3,"c":41.3},{"i":446,"o":41.3,"h":42,"l":40,"c":40},{"i":447,"o":39.4,"h":39.7,"l":34.8,"c":35.2},{"i":448,"o":36.9,"h":38.2,"l":34.9,"c":36.3},{"i":449,"o":36.9,"h":38.5,"l":36.2,"c":36.2},
{"i":450,"o":36.2,"h":36.8,"l":32.8,"c":33.3},{"i":451,"o":33.6,"h":33.9,"l":30.2,"c":30.9},{"i":452,"o":31.1,"h":31.7,"l":29.1,"c":29.1},{"i":453,"o":29,"h":30,"l":27.3,"c":28},{"i":454,"o":28.4,"h":32.1,"l":28.3,"c":31.2},{"i":455,"o":31.4,"h":34.1,"l":31.2,"c":33.8},{"i":456,"o":33.6,"h":36.3,"l":33.1,"c":35.5},{"i":457,"o":48.9,"h":49.9,"l":39.7,"c":46.9},{"i":458,"o":46.7,"h":48.8,"l":44.2,"c":45},{"i":459,"o":45.1,"h":46,"l":42.6,"c":42.9},
{"i":460,"o":42.6,"h":46.3,"l":42.6,"c":46.1},{"i":461,"o":46.3,"h":47.2,"l":45,"c":45.7},{"i":462,"o":46.1,"h":47.7,"l":43.5,"c":45.5},{"i":463,"o":45.1,"h":48.8,"l":45.1,"c":48.8},{"i":464,"o":48.5,"h":56.1,"l":48.3,"c":56.1},{"i":465,"o":56.1,"h":57.1,"l":52.9,"c":52.9},{"i":466,"o":52.7,"h":56.8,"l":52.7,"c":56.7},{"i":467,"o":56.5,"h":60.9,"l":56.5,"c":60.3},{"i":468,"o":61,"h":61.2,"l":50.8,"c":51.4},{"i":469,"o":51,"h":56.2,"l":50.7,"c":55.6},
{"i":470,"o":55.6,"h":61.6,"l":55.6,"c":56.5},{"i":471,"o":56.1,"h":57.3,"l":53.2,"c":54.5},{"i":472,"o":54.4,"h":56.1,"l":49.8,"c":55},{"i":473,"o":55.7,"h":56.9,"l":53.5,"c":53.8},{"i":474,"o":53.8,"h":57.2,"l":51.9,"c":55.7},{"i":475,"o":55,"h":56.9,"l":53.9,"c":53.9},{"i":476,"o":53.9,"h":54.4,"l":49.1,"c":50.3},{"i":477,"o":50.1,"h":56.7,"l":50.1,"c":56.7},{"i":478,"o":56.7,"h":65.3,"l":53.8,"c":61},{"i":479,"o":59.9,"h":60.1,"l":53.8,"c":54.2},
{"i":480,"o":54.4,"h":55.5,"l":51.5,"c":51.5},{"i":481,"o":51.7,"h":52.4,"l":49,"c":49},{"i":482,"o":49.4,"h":50.4,"l":47.1,"c":47.7},{"i":483,"o":47.4,"h":49.4,"l":46.2,"c":48.5},{"i":484,"o":49,"h":50,"l":45.7,"c":45.7},{"i":485,"o":46.2,"h":48.1,"l":46.2,"c":46.6},{"i":486,"o":46.8,"h":50.4,"l":46.8,"c":49},{"i":487,"o":50.1,"h":50.7,"l":47.8,"c":49},{"i":488,"o":48.8,"h":50.7,"l":48.5,"c":50},{"i":489,"o":49.1,"h":49.1,"l":43.1,"c":45},
{"i":490,"o":44.6,"h":47.2,"l":43.5,"c":43.6},{"i":491,"o":43.7,"h":46.8,"l":43,"c":43},{"i":492,"o":42.8,"h":42.8,"l":35.1,"c":35.2},{"i":493,"o":35.1,"h":37.3,"l":34.5,"c":35.7},{"i":494,"o":35.7,"h":35.7,"l":32.9,"c":33.6},{"i":495,"o":33.9,"h":41.2,"l":33.9,"c":40.6},{"i":496,"o":41.1,"h":41.1,"l":38,"c":39.5},{"i":497,"o":40.2,"h":40.9,"l":39.5,"c":40.3},{"i":498,"o":39.8,"h":42.7,"l":39.2,"c":42.7},{"i":499,"o":43,"h":43.4,"l":40.8,"c":40.8},
{"i":500,"o":41.8,"h":42.4,"l":33.6,"c":37.4},{"i":501,"o":37.9,"h":38.5,"l":35.2,"c":36.1},{"i":502,"o":36.4,"h":37.4,"l":34.3,"c":35.8},{"i":503,"o":36.2,"h":37,"l":33.9,"c":33.9},{"i":504,"o":34.2,"h":37.1,"l":34.2,"c":36.8},{"i":505,"o":37,"h":37.3,"l":34.6,"c":34.6},{"i":506,"o":34.5,"h":34.5,"l":32.6,"c":32.9},{"i":507,"o":33.9,"h":34.5,"l":32.7,"c":33.5},{"i":508,"o":33.9,"h":33.9,"l":31.7,"c":31.7},{"i":509,"o":19.8,"h":21.3,"l":15,"c":17.1},
{"i":510,"o":17,"h":19.8,"l":17,"c":19.6},{"i":511,"o":19.3,"h":19.8,"l":17.7,"c":17.7},{"i":512,"o":17.5,"h":18.7,"l":17.2,"c":18.7},{"i":513,"o":18.9,"h":18.9,"l":17.4,"c":17.4},{"i":514,"o":17.1,"h":18.1,"l":16.7,"c":16.7},{"i":515,"o":16.8,"h":17.1,"l":15.9,"c":16.5},{"i":516,"o":16.2,"h":16.8,"l":15.6,"c":15.6},{"i":517,"o":16.1,"h":17.1,"l":15.8,"c":15.8},{"i":518,"o":15.8,"h":15.8,"l":13.6,"c":14.6},{"i":519,"o":15,"h":15.4,"l":14.6,"c":14.9},
{"i":520,"o":15.2,"h":15.4,"l":14.7,"c":14.9},{"i":521,"o":14.6,"h":15.8,"l":14.6,"c":15.8},{"i":522,"o":15.9,"h":17.6,"l":15.4,"c":15.6},{"i":523,"o":15.8,"h":16.5,"l":15,"c":15},{"i":524,"o":15.2,"h":15.8,"l":14.9,"c":14.9},{"i":525,"o":14.9,"h":14.9,"l":13,"c":13},{"i":526,"o":13.1,"h":13.1,"l":12,"c":12},{"i":527,"o":12.1,"h":12.4,"l":11.5,"c":11.5},{"i":528,"o":11.5,"h":13.1,"l":11.5,"c":12.9},{"i":529,"o":12.9,"h":13.1,"l":12.1,"c":12.1},
{"i":530,"o":12,"h":12.7,"l":12,"c":12.4},{"i":531,"o":12.6,"h":13.7,"l":12.2,"c":13},{"i":532,"o":13,"h":13.3,"l":12.2,"c":12.3},{"i":533,"o":12.3,"h":13.3,"l":12.3,"c":12.9},{"i":534,"o":13,"h":13.2,"l":12.3,"c":12.4},{"i":535,"o":13,"h":13.1,"l":12.1,"c":12.3},{"i":536,"o":12.3,"h":12.5,"l":11.4,"c":11.5},{"i":537,"o":11.7,"h":13.1,"l":11.7,"c":12.9},{"i":538,"o":12.6,"h":13.9,"l":12.4,"c":13.3},{"i":539,"o":13.3,"h":13.3,"l":12,"c":12},
{"i":540,"o":12.1,"h":12.6,"l":11,"c":11.1},{"i":541,"o":11.5,"h":13.5,"l":11.4,"c":12.3},{"i":542,"o":11.5,"h":12.6,"l":11.5,"c":12.4},{"i":543,"o":12,"h":12.3,"l":11.4,"c":11.5},{"i":544,"o":11.7,"h":12,"l":11,"c":11},{"i":545,"o":11,"h":11.5,"l":11,"c":11.5},{"i":546,"o":11.5,"h":11.7,"l":10.9,"c":11},{"i":547,"o":11.1,"h":11.5,"l":10.8,"c":11.4},{"i":548,"o":11.3,"h":12.9,"l":11.2,"c":12.7},{"i":549,"o":12.6,"h":12.7,"l":12,"c":12.1},
{"i":550,"o":12,"h":12.1,"l":11.5,"c":11.5},{"i":551,"o":11.7,"h":11.8,"l":10.7,"c":11.5},{"i":552,"o":11.3,"h":11.7,"l":11.2,"c":11.7},{"i":553,"o":11.4,"h":12.1,"l":11.3,"c":12},{"i":554,"o":12,"h":13.4,"l":12,"c":13.4},{"i":555,"o":13.6,"h":13.7,"l":12.2,"c":12.3},{"i":556,"o":12.3,"h":12.5,"l":11.7,"c":12},{"i":557,"o":12.1,"h":13.4,"l":12.1,"c":13.3},{"i":558,"o":13.6,"h":13.7,"l":12.5,"c":12.6},{"i":559,"o":12.7,"h":13.1,"l":12,"c":12.1},
{"i":560,"o":12.7,"h":14.6,"l":12.6,"c":14.3},{"i":561,"o":14.3,"h":14.6,"l":13.3,"c":14.2},{"i":562,"o":14.2,"h":14.6,"l":13.7,"c":14},{"i":563,"o":14,"h":14,"l":12.6,"c":12.7},{"i":564,"o":12.4,"h":12.6,"l":10.8,"c":11.5},{"i":565,"o":11.5,"h":12,"l":11.4,"c":12},{"i":566,"o":13.4,"h":13.7,"l":12.5,"c":12.6},
{"i":567,"o":12.8,"h":13,"l":11.5,"c":11.8},{"i":568,"o":12.2,"h":13.4,"l":12.1,"c":12.9},{"i":569,"o":12.9,"h":13.2,"l":12.1,"c":12.4},{"i":570,"o":12.6,"h":14.4,"l":12.5,"c":13.7},{"i":571,"o":13.4,"h":14.8,"l":13,"c":13.8},{"i":572,"o":14,"h":14.3,"l":12.9,"c":13.4},{"i":573,"o":13.6,"h":13.6,"l":12.2,"c":12.3},{"i":574,"o":12.5,"h":12.5,"l":11.5,"c":11.5},{"i":575,"o":11.3,"h":12.2,"l":9.9,"c":12.2},{"i":576,"o":11.5,"h":12.3,"l":11.4,"c":12},
{"i":577,"o":12.1,"h":12.6,"l":12,"c":12.6},{"i":578,"o":12.5,"h":13.7,"l":12.5,"c":13.7},{"i":579,"o":13.7,"h":15.4,"l":13.7,"c":15.2},{"i":580,"o":15.1,"h":16.9,"l":14.9,"c":16.6},{"i":581,"o":16.7,"h":16.9,"l":16.1,"c":16.6},{"i":582,"o":16.8,"h":17.8,"l":16.5,"c":17},{"i":583,"o":13.6,"h":13.9,"l":10.8,"c":10.8},{"i":584,"o":10.8,"h":11.1,"l":9.7,"c":11},{"i":585,"o":11.1,"h":11.4,"l":10.6,"c":11},{"i":586,"o":11,"h":11.8,"l":11,"c":11.5},
{"i":587,"o":11.7,"h":11.8,"l":10.9,"c":11},{"i":588,"o":11.2,"h":11.3,"l":10.8,"c":10.8},{"i":589,"o":10.9,"h":11,"l":10.7,"c":11},{"i":590,"o":11.1,"h":11.2,"l":10.7,"c":10.8},{"i":591,"o":10.9,"h":10.9,"l":10.4,"c":10.5},{"i":592,"o":10.4,"h":10.4,"l":10,"c":10},{"i":593,"o":10.1,"h":10.6,"l":10,"c":10.5},{"i":594,"o":10.5,"h":10.6,"l":10.4,"c":10.55},{"i":595,"o":10.5,"h":10.6,"l":10.4,"c":10.55},{"i":596,"o":10.5,"h":10.6,"l":10.4,"c":10.55},
{"i":597,"o":10.4,"h":10.5,"l":10.2,"c":10.3},{"i":598,"o":10.5,"h":10.9,"l":10.4,"c":10.9},{"i":599,"o":10.8,"h":11,"l":10.7,"c":11},{"i":600,"o":10.7,"h":11.8,"l":10.7,"c":11.7},{"i":601,"o":11.8,"h":12,"l":11,"c":11},{"i":602,"o":10.8,"h":11.5,"l":10.7,"c":11.3},{"i":603,"o":11.2,"h":11.7,"l":11.2,"c":11.6},{"i":604,"o":11.8,"h":12,"l":11.4,"c":11.6},{"i":605,"o":11.8,"h":12,"l":11.4,"c":11.6},{"i":606,"o":11.8,"h":12.4,"l":11.1,"c":11.1},
{"i":607,"o":10.4,"h":11.4,"l":10.3,"c":10.8},{"i":608,"o":10.7,"h":10.7,"l":9.7,"c":9.7},{"i":609,"o":10.1,"h":10.1,"l":9.4,"c":9.4},{"i":610,"o":9.6,"h":9.6,"l":9.3,"c":9.4},{"i":611,"o":9.5,"h":9.5,"l":9.2,"c":9.3},{"i":612,"o":9.3,"h":9.7,"l":9.2,"c":9.7},{"i":613,"o":9.6,"h":10,"l":9.5,"c":9.7},{"i":614,"o":9.7,"h":10.1,"l":9.6,"c":9.8},{"i":615,"o":9.9,"h":9.9,"l":9.3,"c":9.4},{"i":616,"o":9.6,"h":10,"l":9.6,"c":10},
{"i":617,"o":9.9,"h":10.6,"l":9.8,"c":10.4},{"i":618,"o":10.2,"h":11.4,"l":10.1,"c":11.1},{"i":619,"o":11.1,"h":11.1,"l":10.4,"c":10.4},{"i":620,"o":10.6,"h":10.6,"l":9.7,"c":9.8},{"i":621,"o":10,"h":10,"l":9.6,"c":9.7},{"i":622,"o":10,"h":10.4,"l":9.5,"c":9.6},{"i":623,"o":9.9,"h":10.2,"l":9.5,"c":9.6},{"i":624,"o":9.9,"h":9.9,"l":9.5,"c":9.6},{"i":625,"o":9.4,"h":10,"l":9.3,"c":10},{"i":626,"o":10,"h":10.8,"l":10,"c":10.4},
{"i":627,"o":10.3,"h":10.5,"l":9.5,"c":9.8},{"i":628,"o":10,"h":10.4,"l":9.8,"c":10.2},{"i":629,"o":9.8,"h":10.4,"l":9.7,"c":10.4},{"i":630,"o":10.2,"h":10.8,"l":10.1,"c":10.6},{"i":631,"o":10.5,"h":10.5,"l":10.2,"c":10.3},{"i":632,"o":10.5,"h":10.5,"l":10.2,"c":10.3},{"i":633,"o":10.2,"h":10.5,"l":10.1,"c":10.4},{"i":634,"o":10.6,"h":10.6,"l":10.1,"c":10.2},{"i":635,"o":10.4,"h":10.4,"l":10.1,"c":10.2},{"i":636,"o":10.3,"h":10.4,"l":10,"c":10.1},
{"i":637,"o":10,"h":10.5,"l":10,"c":10.5},{"i":638,"o":10.5,"h":11.3,"l":10.5,"c":11},{"i":639,"o":10.9,"h":11,"l":10.4,"c":10.5},{"i":640,"o":10.6,"h":11,"l":10.4,"c":10.8},{"i":641,"o":10.8,"h":10.9,"l":10.5,"c":10.6},{"i":642,"o":10.5,"h":11.6,"l":10.4,"c":11.4},{"i":643,"o":11.4,"h":11.5,"l":11,"c":11},{"i":644,"o":11.2,"h":11.4,"l":11.1,"c":11.4},{"i":645,"o":11,"h":11.8,"l":11,"c":11.6},{"i":646,"o":11.6,"h":11.6,"l":11,"c":11},
{"i":647,"o":11.5,"h":11.5,"l":9.7,"c":9.7},{"i":648,"o":9.6,"h":9.6,"l":9,"c":9.1},{"i":649,"o":9.2,"h":9.4,"l":9.1,"c":9.3},{"i":650,"o":9.2,"h":9.4,"l":9.1,"c":9.3},{"i":651,"o":9.6,"h":9.6,"l":8.8,"c":8.8},{"i":652,"o":9.1,"h":9.1,"l":8.8,"c":8.8},{"i":653,"o":8.8,"h":9.1,"l":8.5,"c":9},{"i":654,"o":8.8,"h":9,"l":8.7,"c":9},{"i":655,"o":9,"h":9,"l":8.4,"c":8.5},{"i":656,"o":8.1,"h":9.1,"l":8,"c":9},
{"i":657,"o":8.7,"h":9.3,"l":8.6,"c":9.2},{"i":658,"o":9.1,"h":9.3,"l":8.9,"c":9.2},{"i":659,"o":9.7,"h":9.7,"l":9,"c":9.1},{"i":660,"o":9.7,"h":9.9,"l":9.6,"c":9.8},{"i":661,"o":9.7,"h":10,"l":9.4,"c":9.9},{"i":662,"o":9.9,"h":11.1,"l":9.8,"c":10.8}
],
"bands":[
{"s":"outer","i":479.3,"v":56.9},{"s":"outer","i":482,"v":55.3},{"s":"outer","i":485.5,"v":54},{"s":"outer","i":487.7,"v":53.5},{"s":"outer","i":490.7,"v":51.9},{"s":"outer","i":491.7,"v":51},{"s":"outer","i":494.7,"v":49.6},{"s":"outer","i":498.3,"v":49},{"s":"outer","i":500,"v":48.1},{"s":"outer","i":504,"v":47.3},{"s":"outer","i":507.5,"v":46.8},{"s":"outer","i":508.5,"v":44.6},{"s":"outer","i":510,"v":43},{"s":"outer","i":513.5,"v":41.8},{"s":"outer","i":520.5,"v":40.4},{"s":"outer","i":522.5,"v":39.1},{"s":"outer","i":530,"v":36.8},{"s":"outer","i":533.5,"v":36.1},{"s":"outer","i":536,"v":35.2},{"s":"outer","i":539.5,"v":34.6},{"s":"outer","i":541,"v":33.7},{"s":"outer","i":547.5,"v":32.4},{"s":"outer","i":553.5,"v":31.8},{"s":"outer","i":562,"v":30.6},{"s":"outer","i":563.5,"v":30.1},{"s":"outer","i":566.5,"v":29.6},{"s":"outer","i":575,"v":28.35},{"s":"outer","i":582.6,"v":27.8},{"s":"outer","i":584.2,"v":27.1},{"s":"outer","i":595.6,"v":26.5},{"s":"outer","i":605.6,"v":26.1},{"s":"outer","i":608.7,"v":25.7},{"s":"outer","i":624,"v":25.1},{"s":"outer","i":630.1,"v":24.7},{"s":"outer","i":646.9,"v":24.2},{"s":"outer","i":662.2,"v":23.7},
{"s":"middle","i":479,"v":56.9},{"s":"middle","i":481.5,"v":52.9},{"s":"middle","i":485.5,"v":51},{"s":"middle","i":487.5,"v":50.9},{"s":"middle","i":490.7,"v":49},{"s":"middle","i":491.7,"v":46.8},{"s":"middle","i":494.5,"v":44.5},{"s":"middle","i":498.3,"v":44.1},{"s":"middle","i":500,"v":43.3},{"s":"middle","i":504,"v":42.3},{"s":"middle","i":507.5,"v":41.7},{"s":"middle","i":508.2,"v":36.1},{"s":"middle","i":509.5,"v":33.7},{"s":"middle","i":513.5,"v":31.8},{"s":"middle","i":520.5,"v":30.1},{"s":"middle","i":523,"v":28.6},{"s":"middle","i":530,"v":26.1},{"s":"middle","i":533.5,"v":25.4},{"s":"middle","i":536,"v":24.6},{"s":"middle","i":539.5,"v":24.1},{"s":"middle","i":541,"v":23.4},{"s":"middle","i":547.5,"v":22.2},{"s":"middle","i":553.5,"v":21.6},{"s":"middle","i":562,"v":20.8},{"s":"middle","i":563.5,"v":20.4},{"s":"middle","i":566.5,"v":20},{"s":"middle","i":575,"v":19.2},{"s":"middle","i":582.6,"v":19},{"s":"middle","i":584.2,"v":18.3},{"s":"middle","i":595.6,"v":18},{"s":"middle","i":605.6,"v":17.7},{"s":"middle","i":608.7,"v":17.4},{"s":"middle","i":624,"v":17},{"s":"middle","i":630.1,"v":16.6},{"s":"middle","i":646.9,"v":16.3},{"s":"middle","i":662.2,"v":15.9},
{"s":"inner","i":499.5,"v":38.7},{"s":"inner","i":504.5,"v":37},{"s":"inner","i":507.3,"v":36.3},{"s":"inner","i":508.2,"v":26.3},{"s":"inner","i":510,"v":24.6},{"s":"inner","i":513.5,"v":23.6},{"s":"inner","i":520.5,"v":22.3},{"s":"inner","i":523,"v":21.2},{"s":"inner","i":530,"v":19.4},{"s":"inner","i":533.5,"v":19},{"s":"inner","i":536,"v":18.4},{"s":"inner","i":539.5,"v":18},{"s":"inner","i":541,"v":17.6},{"s":"inner","i":547.5,"v":16.8},{"s":"inner","i":553.5,"v":16.5},{"s":"inner","i":562,"v":16.2},{"s":"inner","i":563.5,"v":15.9},{"s":"inner","i":566.5,"v":15.7},{"s":"inner","i":575,"v":15.6},{"s":"inner","i":582.6,"v":15.4},{"s":"inner","i":584.2,"v":15},{"s":"inner","i":595.6,"v":14.7},{"s":"inner","i":608.7,"v":14.3},{"s":"inner","i":624,"v":14},{"s":"inner","i":630.1,"v":13.9},{"s":"inner","i":646.9,"v":13.7},{"s":"inner","i":662.2,"v":13.5}
],
"earnings":[
{"i":11.3,"beat":"n"},{"i":52.1,"beat":"n"},{"i":96,"beat":"y"},{"i":136.9,"beat":"n"},{"i":180.7,"beat":"n"},{"i":221.5,"beat":"n"},{"i":266.4,"beat":"n"},{"i":308.2,"beat":"n"},{"i":352,"beat":"n"},{"i":392.8,"beat":"n"},{"i":436.6,"beat":"y"},{"i":477.6,"beat":"n"},{"i":521.4,"beat":"y"},{"i":562.4,"beat":"n"},{"i":606.2,"beat":"y"},{"i":647.1,"beat":"n"}
]
},
"data":{"name":"candles"},
"layer":[
{"data":{"values":[{"x1":-0.2,"x2":687.7,"y1":126.85,"y2":-7.04}]},"mark":{"type":"rect","fill":"#000000","stroke":"#2c2c2c","strokeWidth":2},
 "encoding":{"x":{"field":"x1","type":"quantitative","scale":{"domain":[-0.2,672.1],"nice":false,"zero":false,"padding":0},"axis":{"title":null,"orient":"bottom","zindex":1,"grid":false,"domain":false,"ticks":false,"labelFont":"Roboto","labelFontSize":12.5,"labelColor":"#a9abb0","labelPadding":8,"labelAngle":0,"labelOverlap":false,"labelFlush":false,"labelFontWeight":{"condition":{"test":"datum.label!='Jul'","value":600},"value":400},"values":[41.2,82.9,126,167.5,211.6,253.3,297.3,340.1,382.9,426,467.6,509.6,553.3,595.5,638.4],"labelExpr":"{'41.2':'2019','82.9':'Jul','126':'2020','167.5':'Jul','211.6':'2021','253.3':'Jul','297.3':'2022','340.1':'Jul','382.9':'2023','426':'Jul','467.6':'2024','509.6':'Jul','553.3':'2025','595.5':'Jul','638.4':'2026'}[datum.value]"}},"x2":{"field":"x2"},
 "y":{"field":"y1","type":"quantitative","scale":{"domain":[-3.09,126.85],"nice":false,"zero":false,"padding":0},"axis":{"title":null,"orient":"right","zindex":1,"grid":false,"domain":false,"ticks":false,"labelFont":"Roboto","labelFontSize":12.5,"labelColor":"#a9abb0","labelPadding":8,"labelOverlap":false,"labelBound":false,"tickCount":30,"values":[0,5,15,20,25,30,35,40,45,50,55,60,65,70,75,80,85,90,95,100,105,110,115,120,125],"labelExpr":"datum.value==0?'0.0000':datum.value==5?'5.000':datum.value>100?format(datum.value,'.1f'):format(datum.value,'.2f')"}},"y2":{"field":"y2"}}},
{"data":{"values":[{"p":0},{"p":5},{"p":10},{"p":15},{"p":20},{"p":25},{"p":30},{"p":35},{"p":40},{"p":45},{"p":50},{"p":55},{"p":60},{"p":65},{"p":70},{"p":75},{"p":80},{"p":85},{"p":90},{"p":95},{"p":100},{"p":105},{"p":110},{"p":115},{"p":120},{"p":125}]},"mark":{"type":"rule","color":"#484848","strokeWidth":1},
 "encoding":{"y":{"field":"p","type":"quantitative"}}},
{"data":{"values":[{"t":41.2},{"t":82.9},{"t":126},{"t":167.5},{"t":211.6},{"t":253.3},{"t":297.3},{"t":340.1},{"t":382.9},{"t":426},{"t":467.6},{"t":509.6},{"t":553.3},{"t":595.5},{"t":638.4}]},"mark":{"type":"rule","color":"#777777","strokeWidth":1},
 "encoding":{"x":{"field":"t","type":"quantitative"}}},
{"data":{"values":[{"a":172.9,"b":496.3,"top":68.1,"bottom":54.7}]},"mark":{"type":"rect","fill":"#d6c7a8","fillOpacity":0.21,"stroke":"#d6c7a8","strokeOpacity":0.1},
 "encoding":{"x":{"field":"a","type":"quantitative"},"x2":{"field":"b"},"y":{"field":"top","type":"quantitative"},"y2":{"field":"bottom"}}},
{"data":{"values":[{"a":81.8,"b":665.1,"top":12.15,"bottom":9.47}]},"mark":{"type":"rect","fill":"#b5a52a","fillOpacity":0.3,"stroke":"#a3922a","strokeWidth":2},
 "encoding":{"x":{"field":"a","type":"quantitative"},"x2":{"field":"b"},"y":{"field":"top","type":"quantitative"},"y2":{"field":"bottom"}}},
{"mark":{"type":"rule","strokeWidth":1},
 "encoding":{"x":{"field":"i","type":"quantitative"},"y":{"field":"l","type":"quantitative"},"y2":{"field":"h"},
 "color":{"condition":{"test":"datum.c>=datum.o","value":"#11e611"},"value":"#f23645"}}},
{"mark":{"type":"bar","width":2.4,"strokeWidth":0.6},
 "encoding":{"x":{"field":"i","type":"quantitative"},"y":{"field":"o","type":"quantitative"},"y2":{"field":"c"},
 "fill":{"condition":{"test":"datum.c>=datum.o","value":"#11e611"},"value":"#f23645"},"stroke":{"condition":{"test":"datum.c>=datum.o","value":"#11e611"},"value":"#f23645"}}},
{"data":{"name":"bands"},"mark":{"type":"line","strokeWidth":3.2,"strokeCap":"round","strokeJoin":"round"},
 "encoding":{"x":{"field":"i","type":"quantitative"},"y":{"field":"v","type":"quantitative"},"detail":{"field":"s"},"order":{"field":"i"},
 "color":{"condition":{"test":"datum.s=='outer'","value":"#46c4dc"},"value":"#ffffff"}}},
{"data":{"values":[{"a":100.6,"b":144.1,"top":89.7,"bottom":82.3}]},"mark":{"type":"rect","fill":"transparent","stroke":"#e81212","strokeWidth":2,"cornerRadiusTopLeft":18,"cornerRadiusTopRight":25,"cornerRadiusBottomRight":25,"cornerRadiusBottomLeft":0},
 "encoding":{"x":{"field":"a","type":"quantitative"},"x2":{"field":"b"},"y":{"field":"top","type":"quantitative"},"y2":{"field":"bottom"}}},
{"data":{"values":[{"i":122.5,"p":85.9,"t":"very high risk"}]},"mark":{"type":"text","font":"Open Sans","fontSize":19,"color":"#e81212","align":"center","baseline":"middle"},
 "encoding":{"x":{"field":"i","type":"quantitative"},"y":{"field":"p","type":"quantitative"},"text":{"field":"t"}}},
{"data":{"values":[{"i":308.8,"p":37.7,"t":"ALFEN 3D"}]},"mark":{"type":"text","font":"Open Sans","fontWeight":"bold","fontSize":30,"color":"#ffffff","align":"left","baseline":"middle"},
 "encoding":{"x":{"field":"i","type":"quantitative"},"y":{"field":"p","type":"quantitative"},"text":{"field":"t"}}},
{"data":{"values":[{"i":505.8,"p":94.5,"t":"@scetrader"}]},"mark":{"type":"text","font":"Open Sans","fontWeight":"bold","fontSize":29,"color":"#fff59d","align":"left","baseline":"middle"},
 "encoding":{"x":{"field":"i","type":"quantitative"},"y":{"field":"p","type":"quantitative"},"text":{"field":"t"}}},
{"data":{"name":"earnings"},"transform":[{"filter":"datum.beat=='n'"}],"mark":{"type":"point","shape":"square","size":324,"filled":true,"fill":"#161616","stroke":"#8a8a8a","strokeWidth":2,"opacity":1},
 "encoding":{"x":{"field":"i","type":"quantitative"},"y":{"datum":-1.2,"type":"quantitative"}}},
{"data":{"name":"earnings"},"transform":[{"filter":"datum.beat=='y'"}],"mark":{"type":"point","shape":"M-1,-1H1V0.7L0,1.2L-1,0.7Z","size":324,"filled":true,"fill":"#161616","stroke":"#b3242f","strokeWidth":2,"opacity":1},
 "encoding":{"x":{"field":"i","type":"quantitative"},"y":{"datum":-1.2,"type":"quantitative"}}},
{"data":{"name":"earnings"},"mark":{"type":"text","font":"Roboto","fontSize":12,"align":"center","baseline":"middle"},
 "encoding":{"x":{"field":"i","type":"quantitative"},"y":{"datum":-1.2,"type":"quantitative"},"text":{"value":"E"},
 "color":{"condition":{"test":"datum.beat=='y'","value":"#b3242f"},"value":"#bdbdbd"}}},
{"data":{"values":[{"a":672.1,"b":685,"top":11.9,"bottom":9.43}]},"mark":{"type":"rect","fill":"#0df50d"},
 "encoding":{"x":{"field":"a","type":"quantitative"},"x2":{"field":"b"},"y":{"field":"top","type":"quantitative"},"y2":{"field":"bottom"}}},
{"data":{"values":[{"i":674.5,"p":10.8,"t":"10.80"}]},"mark":{"type":"text","font":"Roboto","fontSize":12.5,"color":"#063d06","align":"left","baseline":"middle"},
 "encoding":{"x":{"field":"i","type":"quantitative"},"y":{"field":"p","type":"quantitative"},"text":{"field":"t"}}},
{"data":{"values":[{"a":-0.2,"b":687.7,"p":-3.09}]},"mark":{"type":"rule","color":"#ffffff","strokeWidth":1.5},
 "encoding":{"x":{"field":"a","type":"quantitative"},"x2":{"field":"b"},"y":{"field":"p","type":"quantitative"}}},
{"data":{"values":[{"a":672.1,"top":126.85,"bottom":-7.04}]},"mark":{"type":"rule","color":"#ffffff","strokeWidth":1.5},
 "encoding":{"x":{"field":"a","type":"quantitative"},"y":{"field":"top","type":"quantitative"},"y2":{"field":"bottom"}}},
{"data":{"values":[{"i":4.6,"p":-11.5}]},"mark":{"type":"point","shape":"M-0.98,-0.51H-0.13V0.44H-0.64V-0.18H-0.98Z M0.42,-0.51H1L0.53,0.44H-0.02Z M0.16,-0.5A0.17,0.17,0,1,1,0.16,-0.16A0.17,0.17,0,1,1,0.16,-0.5Z","size":900,"filled":true,"fill":"#dcdcdc","opacity":1},
 "encoding":{"x":{"field":"i","type":"quantitative"},"y":{"field":"p","type":"quantitative"}}},
{"data":{"values":[{"i":11.2,"p":-11.5,"t":"TradingView"}]},"mark":{"type":"text","font":"Inter","fontWeight":600,"fontSize":20,"color":"#dcdcdc","align":"left","baseline":"middle"},
 "encoding":{"x":{"field":"i","type":"quantitative"},"y":{"field":"p","type":"quantitative"},"text":{"field":"t"}}}
]
}
